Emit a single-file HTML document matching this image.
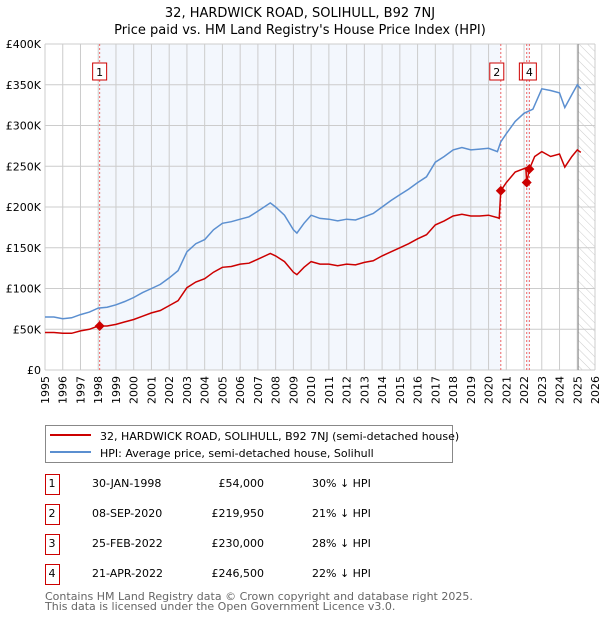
<!DOCTYPE html>
<html><head><meta charset="utf-8"><style>
body{margin:0;background:#fff;font-family:"DejaVu Sans","Liberation Sans",sans-serif;}
svg text{font-family:"DejaVu Sans","Liberation Sans",sans-serif;}
</style></head><body>
<svg id="chart" width="600" height="620" xmlns="http://www.w3.org/2000/svg">
<defs><pattern id="hatch" width="6" height="6" patternUnits="userSpaceOnUse" patternTransform="rotate(-45)"><line x1="0" y1="0" x2="0" y2="6" stroke="#ccc" stroke-width="1"/></pattern></defs>
<text x="300" y="17" font-size="13" text-anchor="middle">32, HARDWICK ROAD, SOLIHULL, B92 7NJ</text>
<text x="300" y="34" font-size="13" text-anchor="middle">Price paid vs. HM Land Registry's House Price Index (HPI)</text>
<g id="plot"></g>
<g>
<rect x="45.5" y="425.5" width="407" height="37" fill="#fff" stroke="#888"/>
<line x1="50" y1="435" x2="91" y2="435" stroke="#cc0000" stroke-width="2"/>
<text x="100" y="440" font-size="11">32, HARDWICK ROAD, SOLIHULL, B92 7NJ (semi-detached house)</text>
<line x1="50" y1="452" x2="91" y2="452" stroke="#5b8fd0" stroke-width="2"/>
<text x="100" y="457" font-size="11">HPI: Average price, semi-detached house, Solihull</text>
</g>
<g id="table"></g>
<text x="45" y="600" font-size="11" fill="#666">Contains HM Land Registry data © Crown copyright and database right 2025.</text>
<text x="45" y="610" font-size="11" fill="#666">This data is licensed under the Open Government Licence v3.0.</text>
</svg>
<script>
const yTicks=[0,50000,100000,150000,200000,250000,300000,350000,400000];
const yTickLabels=["£0","£50K","£100K","£150K","£200K","£250K","£300K","£350K","£400K"];
const xYears=[1995,1996,1997,1998,1999,2000,2001,2002,2003,2004,2005,2006,2007,2008,2009,2010,2011,2012,2013,2014,2015,2016,2017,2018,2019,2020,2021,2022,2023,2024,2025,2026];
const hpiDates=[1995,1995.5,1996,1996.5,1997,1997.5,1998,1998.5,1999,1999.5,2000,2000.5,2001,2001.5,2002,2002.5,2003,2003.5,2004,2004.5,2005,2005.5,2006,2006.5,2007,2007.7,2008,2008.5,2009,2009.2,2009.6,2010,2010.5,2011,2011.5,2012,2012.5,2013,2013.5,2014,2014.5,2015,2015.5,2016,2016.5,2017,2017.5,2018,2018.5,2019,2019.5,2020,2020.5,2020.69,2021,2021.5,2022,2022.5,2023,2023.5,2024,2024.3,2024.7,2025,2025.2];
const hpiValues=[65000,65000,63000,64000,68000,71000,76000,77000,80000,84000,89000,95000,100000,105000,113000,122000,145000,155000,160000,172000,180000,182000,185000,188000,195000,205000,200000,190000,172000,168000,180000,190000,186000,185000,183000,185000,184000,188000,192000,200000,208000,215000,222000,230000,237000,255000,262000,270000,273000,270000,271000,272000,268000,280000,290000,305000,315000,320000,345000,343000,340000,322000,338000,350000,345000];
const priceDates=[1995,1995.5,1996,1996.5,1997,1997.5,1998,1998.5,1999,1999.5,2000,2000.5,2001,2001.5,2002,2002.5,2003,2003.5,2004,2004.5,2005,2005.5,2006,2006.5,2007,2007.7,2008,2008.5,2009,2009.2,2009.6,2010,2010.5,2011,2011.5,2012,2012.5,2013,2013.5,2014,2014.5,2015,2015.5,2016,2016.5,2017,2017.5,2018,2018.5,2019,2019.5,2020,2020.5,2020.6,2020.69,2021,2021.5,2022.1,2022.15,2022.3,2022.6,2023,2023.5,2024,2024.3,2024.7,2025,2025.2];
const priceValues=[46000,46000,45000,45000,48000,50000,54000,54000,56000,59000,62000,66000,70000,73000,79000,85000,101000,108000,112000,120000,126000,127000,130000,131000,136000,143000,140000,133000,120000,117000,126000,133000,130000,130000,128000,130000,129000,132000,134000,140000,145000,150000,155000,161000,166000,178000,183000,189000,191000,189000,189000,190000,187000,186000,219950,230000,243000,248000,230000,246500,262000,268000,262000,265000,249000,262000,270000,267000];
const saleDates=[1998.08,2020.69,2022.15,2022.3];
const salePrices=[54000,219950,230000,246500];
const saleLabels=["1","2","3","4"];
const saleDateText=["30-JAN-1998","08-SEP-2020","25-FEB-2022","21-APR-2022"];
const salePriceText=["£54,000","£219,950","£230,000","£246,500"];
const saleHpiText=["30% ↓ HPI","21% ↓ HPI","28% ↓ HPI","22% ↓ HPI"];

const X0=45,X1=595,Y0=370,Y1=44;
const xs=d=>X0+(d-1995)/(2026-1995)*(X1-X0);
const ys=v=>Y0-v/400000*(Y0-Y1);
const NS="http://www.w3.org/2000/svg";
const plot=document.getElementById('plot');
function mk(tag,attrs,parent){const e=document.createElementNS(NS,tag);for(const k in attrs)e.setAttribute(k,attrs[k]);(parent||plot).appendChild(e);return e;}

let e=mk('rect',{x:X0,y:Y1,width:X1-X0,height:Y0-Y1,fill:'#fff'});


e=mk('rect',{x:xs(saleDates[0]),y:Y1,width:xs(saleDates[1])-xs(saleDates[0]),height:Y0-Y1,fill:'#eef3fc',opacity:0.7});


e=mk('rect',{x:xs(saleDates[2]),y:Y1,width:xs(saleDates[3])-xs(saleDates[2]),height:Y0-Y1,fill:'#eef3fc',opacity:0.7});


e=mk('rect',{x:xs(2025.05),y:Y1,width:X1-xs(2025.05),height:Y0-Y1,fill:'url(#hatch)'});



xYears.forEach(y=>{
  const l=mk('line',{x1:xs(y),x2:xs(y),y1:Y1,y2:Y0,stroke:'#ccc','stroke-width':1});
  
  
  const t=mk('text',{x:0,y:0,'font-size':11,'text-anchor':'end',transform:`translate(${xs(y)+4},${Y0+6}) rotate(-90)`});
  
  
  t.textContent=y;
});
yTicks.forEach((v,i)=>{
  const l=mk('line',{x1:X0,x2:X1,y1:ys(v),y2:ys(v),stroke:'#ccc','stroke-width':1});
  
  
  const t=mk('text',{x:X0-4,y:ys(v)+4,'font-size':11,'text-anchor':'end'});
  
  
  t.textContent=yTickLabels[i];
});
e=mk('line',{x1:xs(2025.05),x2:xs(2025.05),y1:Y1,y2:Y0,stroke:'#888','stroke-width':1});



saleDates.forEach((d,i)=>{
  const l=mk('line',{x1:xs(d),x2:xs(d),y1:Y1,y2:Y0,stroke:'#e66','stroke-width':1,'stroke-dasharray':'2,2'});
  
  
});

function path(dates,vals,color,name){
  const p=mk('path',{d:dates.map((d,i)=>(i?'L':'M')+xs(d).toFixed(1)+','+ys(vals[i]).toFixed(1)).join(''),fill:'none',stroke:color,'stroke-width':1.5});
  
  
}
path(hpiDates,hpiValues,'#5b8fd0','hpi-line');
path(priceDates,priceValues,'#cc0000','price-paid-line');

saleDates.forEach((d,i)=>{
  const cx=xs(d),cy=ys(salePrices[i]);
  const m=mk('path',{d:`M${cx},${cy-5}L${cx+5},${cy}L${cx},${cy+5}L${cx-5},${cy}Z`,fill:'#cc0000'});
  
  
  if(i==2) return;
  const bx=(i==1?cx-11:cx-7), w=14;
  const r=mk('rect',{x:bx,y:63,width:w,height:17,fill:'#fff',stroke:'#cc0000'});
  
  
  const t=mk('text',{x:bx+w/2,y:76,'font-size':11,'text-anchor':'middle'});
  
  
  t.textContent=saleLabels[i];
  if(i==3){const r2=mk('rect',{x:bx-3,y:63,width:3,height:17,fill:'#fff',stroke:'#cc0000'});
    
    }
});

const tbl=document.getElementById('table');
saleLabels.forEach((lab,i)=>{
  const y=483+i*30;
  const r=mk('rect',{x:45.5,y:y-8.5,width:14,height:20,fill:'#fff',stroke:'#cc0000'},tbl);
  
  
  const cells=[[52,'middle',lab],[92,'start',saleDateText[i]],[264,'end',salePriceText[i]],[312,'start',saleHpiText[i]]];
  cells.forEach(c=>{
    const t=mk('text',{x:c[0],y:y+4,'font-size':11,'text-anchor':c[1]},tbl);
    
    
    t.textContent=c[2];
  });
});
</script>
</body></html>
